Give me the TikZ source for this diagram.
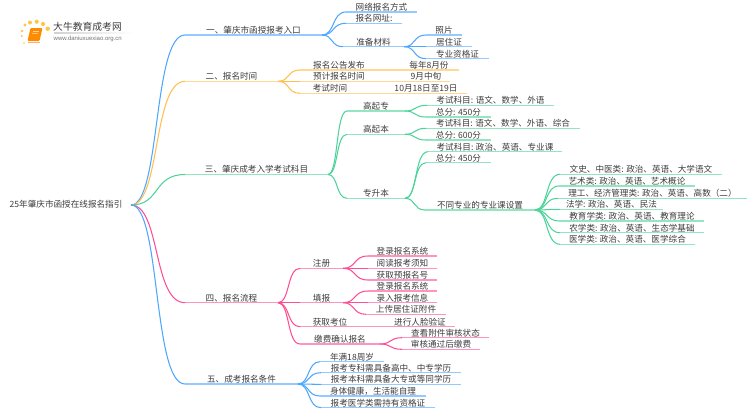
\documentclass[tikz,border=0pt]{standalone}
\usepackage{fontspec}
\setmainfont{Noto Sans CJK SC}
\newfontfamily\latinlogo{Liberation Sans}
\usetikzlibrary{calc}
\definecolor{cblue}{HTML}{4DA6FF}
\definecolor{corange}{HTML}{FFBF4D}
\definecolor{cgreen}{HTML}{4DD39A}
\definecolor{cpink}{HTML}{FF4D94}
\definecolor{ctext}{HTML}{3C3C3C}
\tikzset{
  lbl/.style={inner sep=0pt,outer sep=0pt,anchor=south west,minimum height=9.4pt,text=ctext,font=\fontsize{8.6}{9}\selectfont,text height=7.6pt,text depth=1.6pt},
  under/.style={line width=1.35pt,opacity=.6},
  curve/.style={line width=1.05pt},
}
% name, colour, x1, x2, yline, text
\newcommand\bnode[6]{%
  \pgfmathsetmacro\bwidth{#4-#3}%
  \node[lbl,minimum width=\bwidth pt] (#1) at (#3,#5) {#6};
  \draw[under,draw=#2] (#1.south west) -- (#1.south east);
}
% parent, child, colour
\newcommand\conn[3]{%
  \draw[curve,draw=#3] let \p1=(#1.south east),\p2=(#2.south west) in
    (\p1) .. controls ({\x1*.45+\x2*.55},\y1) and ({\x1*.6+\x2*.4},\y2) .. (\p2);
}
\newcommand\link[3]{\draw[under,draw=#3] (#1.south east) -- (#2.south west);}
\begin{document}
\begin{tikzpicture}[x=1pt,y=-1pt]
\useasboundingbox (0,0) rectangle (750,410);
% logo
\foreach \xa/\ya/\s in {36.7/21.7/2.1,30/22.5/2,43/24/2.1,47.7/28.7/2.2,25/25/1.7,22/31/1.3,21.7/36/1.1,24/43/.9}{
  \fill[color=corange!90!yellow] (\xa,\ya) circle (\s pt);
}
\fill[color=orange!90!yellow,rounded corners=1pt] (30.5,28) -- (42.5,28) -- (39.5,41) -- (27.5,41) -- cycle;
\draw[color=orange!60!white,line width=.7pt] (27.5,42.4) -- (40,42.4);
\fill[color=white,opacity=.6] (32.6,30.5) rectangle (38.8,31.4);
\fill[color=white,opacity=.5] (32,33) rectangle (38,33.8);
\node[inner sep=0pt,anchor=west,text=ctext,font=\fontsize{9.8}{11}\selectfont] (logot) at (53,26.7) {大牛教育成考网};
\node[inner sep=0pt,anchor=west,text=black!55,font=\latinlogo\fontsize{6}{7}\selectfont] (logou) at (53.5,39) {www.daniuxuexiao.org.cn};
\shade[left color=black!18,right color=white] (54,32.5) rectangle (133,33.2);
% root
\node[inner sep=0pt,anchor=west,text=ctext,font=\fontsize{8.6}{9}\selectfont] (root) at (9.5,204.5) {25年肇庆市函授在线报名指引};
\coordinate (rootout) at (131,205);
% level 1
\bnode{a}{cblue}{185}{322}{35}{一、肇庆市函授报考入口}
\bnode{b}{corange}{185}{278}{81.3}{二、报名时间}
\bnode{c}{cgreen}{185}{328}{174.5}{三、肇庆成考入学考试科目}
\bnode{d}{cpink}{185}{278}{302.7}{四、报名流程}
\bnode{e}{cblue}{185}{298}{384}{五、成考报名条件}
\conn{rootout}{a}{cblue}\conn{rootout}{b}{corange}\conn{rootout}{c}{cgreen}\conn{rootout}{d}{cpink}\conn{rootout}{e}{cblue}
% a
\bnode{a1}{cblue}{346}{417}{12}{网络报名方式}
\bnode{a2}{cblue}{346}{402}{23.3}{报名网址:}
\bnode{a3}{cblue}{343}{404}{46.7}{准备材料}
\conn{a}{a1}{cblue}\conn{a}{a2}{cblue}\conn{a}{a3}{cblue}
\bnode{a31}{cblue}{426}{462}{35}{照片}
\bnode{a32}{cblue}{426}{472}{46.7}{居住证}
\bnode{a33}{cblue}{426}{489}{58.7}{专业资格证}
\conn{a3}{a31}{cblue}\conn{a3}{a32}{cblue}\conn{a3}{a33}{cblue}
% b
\bnode{b1}{corange}{300}{378}{70}{报名公告发布}
\bnode{b2}{corange}{300}{378}{81.3}{预计报名时间}
\bnode{b3}{corange}{300}{360}{93.3}{考试时间}
\conn{b}{b1}{corange}\conn{b}{b2}{corange}\conn{b}{b3}{corange}
\bnode{b11}{corange}{399}{459}{70}{每年8月份}
\bnode{b21}{corange}{402}{450}{81.3}{9月中旬}
\bnode{b31}{corange}{385}{467}{93.3}{10月18日至19日}
\link{b1}{b11}{corange}\link{b2}{b21}{corange}\link{b3}{b31}{corange}
% c
\bnode{c1}{cgreen}{347}{405}{111}{高起专}
\bnode{c2}{cgreen}{347}{405}{134.3}{高起本}
\bnode{c3}{cgreen}{347}{405}{198.3}{专升本}
\conn{c}{c1}{cgreen}\conn{c}{c2}{cgreen}\conn{c}{c3}{cgreen}
\bnode{c11}{cgreen}{427}{554}{105.3}{考试科目: 语文、数学、外语}
\bnode{c12}{cgreen}{426}{491}{117}{总分: 450分}
\conn{c1}{c11}{cgreen}\conn{c1}{c12}{cgreen}
\bnode{c21}{cgreen}{426}{580}{128.3}{考试科目: 语文、数学、外语、综合}
\bnode{c22}{cgreen}{426}{491}{140}{总分: 600分}
\conn{c2}{c21}{cgreen}\conn{c2}{c22}{cgreen}
\bnode{c31}{cgreen}{428}{562}{151.7}{考试科目: 政治、英语、专业课}
\bnode{c32}{cgreen}{426}{491}{162.7}{总分: 450分}
\bnode{c33}{cgreen}{425}{535}{210}{不同专业的专业课设置}
\conn{c3}{c31}{cgreen}\conn{c3}{c32}{cgreen}\conn{c3}{c33}{cgreen}
\bnode{c331}{cgreen}{560}{722}{174.3}{文史、中医类: 政治、英语、大学语文}
\bnode{c332}{cgreen}{559}{695}{186}{艺术类: 政治、英语、艺术概论}
\bnode{c333}{cgreen}{558}{747}{198.3}{理工、经济管理类: 政治、英语、高数（二）}
\bnode{c334}{cgreen}{560}{663}{209.3}{法学: 政治、英语、民法}
\bnode{c335}{cgreen}{560}{704}{221}{教育学类: 政治、英语、教育理论}
\bnode{c336}{cgreen}{560}{704}{232.7}{农学类: 政治、英语、生态学基础}
\bnode{c337}{cgreen}{560}{695}{244.3}{医学类: 政治、英语、医学综合}
\conn{c33}{c331}{cgreen}\conn{c33}{c332}{cgreen}\conn{c33}{c333}{cgreen}\conn{c33}{c334}{cgreen}\conn{c33}{c335}{cgreen}\conn{c33}{c336}{cgreen}\conn{c33}{c337}{cgreen}
% d
\bnode{d1}{cpink}{300}{343}{268.3}{注册}
\bnode{d2}{cpink}{300}{343}{302.7}{填报}
\bnode{d3}{cpink}{300}{360}{326.7}{获取考位}
\bnode{d4}{cpink}{300}{380}{344}{缴费确认报名}
\conn{d}{d1}{cpink}\conn{d}{d2}{cpink}\conn{d}{d3}{cpink}\conn{d}{d4}{cpink}
\bnode{d11}{cpink}{368}{437}{256}{登录报名系统}
\bnode{d12}{cpink}{368}{437}{268.3}{阅读报考须知}
\bnode{d13}{cpink}{368}{437}{280}{获取预报名号}
\conn{d1}{d11}{cpink}\conn{d1}{d12}{cpink}\conn{d1}{d13}{cpink}
\bnode{d21}{cpink}{368}{437}{291}{登录报名系统}
\bnode{d22}{cpink}{368}{437}{302.7}{录入报考信息}
\bnode{d23}{cpink}{366}{446}{314.3}{上传居住证附件}
\conn{d2}{d21}{cpink}\conn{d2}{d22}{cpink}\conn{d2}{d23}{cpink}
\bnode{d31}{cpink}{385}{455}{326.7}{进行人脸验证}
\link{d3}{d31}{cpink}
\bnode{d41}{cpink}{402}{489}{337.7}{查看附件审核状态}
\bnode{d42}{cpink}{402}{480}{349.3}{审核通过后缴费}
\conn{d4}{d41}{cpink}\conn{d4}{d42}{cpink}
% e
\bnode{e1}{cblue}{320}{384}{361.7}{年满18周岁}
\bnode{e2}{cblue}{321}{461}{372.7}{报考专科需具备高中、中专学历}
\bnode{e3}{cblue}{321}{461}{384.3}{报考本科需具备大专或等同学历}
\bnode{e4}{cblue}{320}{426}{396}{身体健康，生活能自理}
\bnode{e5}{cblue}{321}{435}{407.7}{报考医学类需持有资格证}
\conn{e}{e1}{cblue}\conn{e}{e2}{cblue}\conn{e}{e3}{cblue}\conn{e}{e4}{cblue}\conn{e}{e5}{cblue}
\end{tikzpicture}
\end{document}
